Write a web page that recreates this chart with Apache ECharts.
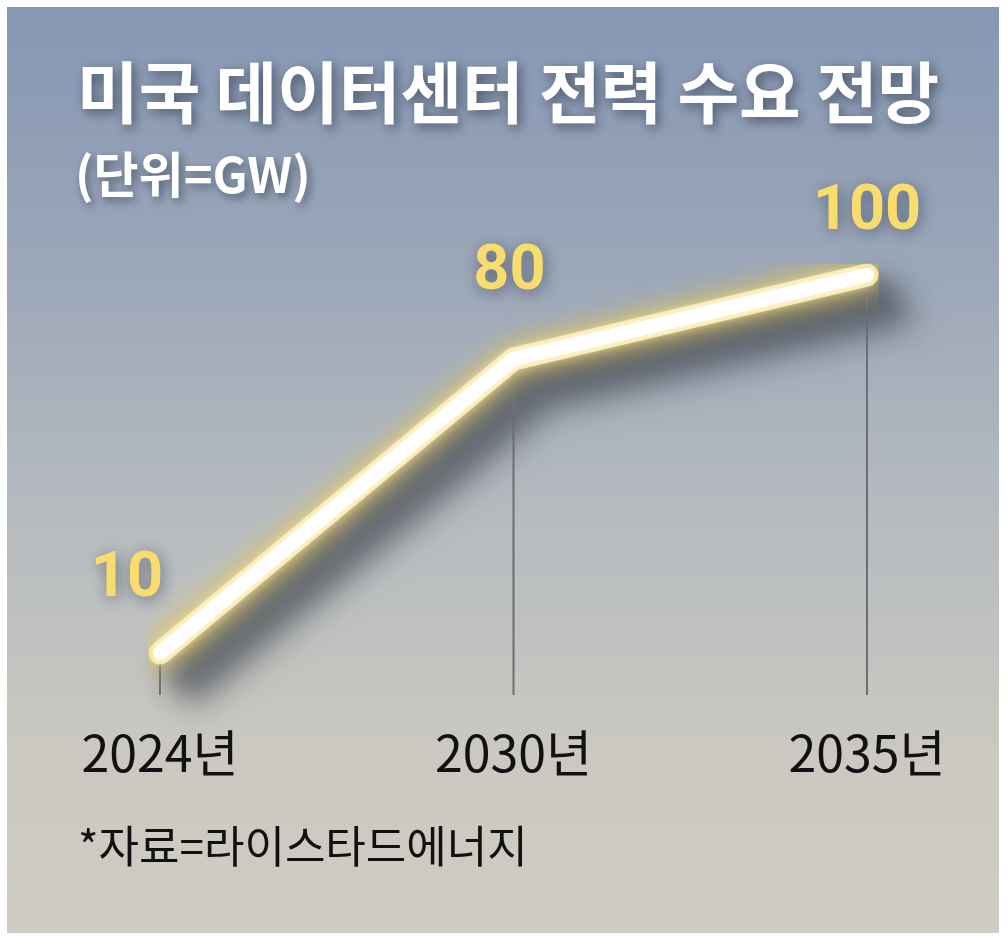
<!DOCTYPE html>
<html>
<head>
<meta charset="utf-8">
<script src="https://cdn.jsdelivr.net/npm/echarts@6/dist/echarts.min.js"></script>
<style>
  html, body { margin: 0; padding: 0; background: #ffffff; }
  #chart { width: 1007px; height: 938px; }
</style>
</head>
<body>
<div id="chart"></div>
<script>
// ---- data ----
var titleText = '미국 데이터센터 전력 수요 전망';
var unitText = '(단위=GW)';
var sourceText = '*자료=라이스타드에너지';
var categories = ['2024년', '2030년', '2035년'];
var demandGW = [10, 80, 100];

// ---- styles ----
var labelOffsets = [[-33, -73], [-4, -86], [0, -62]];
var sansKR = '"Noto Sans CJK KR", "Noto Sans", sans-serif';

var chart = echarts.init(document.getElementById('chart'), null, { renderer: 'canvas' });

var labelData = demandGW.map(function (v, i) {
  return { value: v, label: { offset: labelOffsets[i] } };
});

// cast shadow of the line, drawn through the axes (api.coord)
function renderShadow(params, api) {
  if (params.dataIndex !== 0) return null;
  var pts = demandGW.map(function (v, i) { return api.coord([i, v]); });
  function layer(ox, oy, blur, color) {
    return {
      type: 'polyline',
      shape: { points: pts },
      style: {
        fill: null, stroke: '#ffffff', lineWidth: 20,
        lineCap: 'round', lineJoin: 'round',
        shadowColor: color, shadowBlur: blur,
        shadowOffsetX: ox, shadowOffsetY: oy
      }
    };
  }
  return {
    type: 'group',
    children: [
      layer(12, 12, 24, 'rgba(75,80,89,0.6)'),
      layer(20, 22, 26, 'rgba(75,80,89,0.75)'),
      layer(28, 32, 28, 'rgba(75,80,89,0.75)'),
      layer(34, 42, 32, 'rgba(75,80,89,0.55)')
    ]
  };
}

var option = {
  backgroundColor: '#ffffff',
  animation: false,
  graphic: [
    {
      type: 'rect', z: -10, silent: true,
      shape: { x: 7, y: 7, width: 992, height: 926 },
      style: {
        fill: new echarts.graphic.LinearGradient(0, 0, 0, 1, [
          { offset: 0, color: '#8597b3' },
          { offset: 0.3, color: '#9da8b9' },
          { offset: 0.55, color: '#b6bbbf' },
          { offset: 0.8, color: '#cac8c0' },
          { offset: 1, color: '#d0ccc2' }
        ])
      }
    },
    {
      type: 'text', left: 78, top: 824, z: 10,
      style: { text: sourceText, fill: '#111111', font: '400 44px ' + sansKR }
    }
  ],
  title: [
    {
      text: titleText, left: 72, top: 54,
      textStyle: {
        color: '#ffffff', fontSize: 67, fontWeight: 'bold', fontFamily: sansKR,
        textShadowColor: 'rgba(35,45,65,0.65)', textShadowBlur: 12,
        textShadowOffsetX: 3, textShadowOffsetY: 4
      }
    },
    {
      text: unitText, left: 70, top: 145,
      textStyle: {
        color: '#ffffff', fontSize: 49, fontWeight: 'bold', fontFamily: sansKR,
        textShadowColor: 'rgba(35,45,65,0.6)', textShadowBlur: 10,
        textShadowOffsetX: 3, textShadowOffsetY: 4
      }
    }
  ],
  grid: { left: 160, right: 140, top: 275, bottom: 243 },
  xAxis: {
    type: 'category',
    data: categories,
    boundaryGap: false,
    axisLine: { show: false },
    axisTick: { show: false },
    splitLine: { show: false },
    axisLabel: {
      color: '#111111', fontSize: 50, fontFamily: sansKR, margin: 33
    }
  },
  yAxis: {
    type: 'value', min: 0, max: 100, interval: 20,
    show: false
  },
  series: [
    {
      // drop lines
      type: 'bar', z: 3, barWidth: 2, silent: true,
      data: demandGW,
      itemStyle: { color: '#6b6e74' }
    },
    {
      type: 'custom', z: 2, silent: true, clip: false,
      data: demandGW,
      renderItem: renderShadow
    },
    {
      // yellow glow
      type: 'line', z: 4, data: demandGW, symbol: 'none', silent: true,
      lineStyle: {
        width: 23, color: '#fae69e', cap: 'round', join: 'round',
        shadowColor: '#f2cd45', shadowBlur: 28
      }
    },
    {
      // white core + labels
      type: 'line', z: 5, data: labelData, symbol: 'circle', symbolSize: 1,
      silent: true,
      itemStyle: { color: 'rgba(255,255,255,0)' },
      lineStyle: {
        width: 14, color: '#ffffff', cap: 'round', join: 'round',
        shadowColor: '#ffffff', shadowBlur: 12
      },
      label: {
        show: true, position: 'inside',
        color: '#f8dc6e', fontSize: 63, fontWeight: 'bold',
        fontFamily: 'Roboto, "Noto Sans", sans-serif',
        textShadowColor: 'rgba(40,50,70,0.6)', textShadowBlur: 16,
        textShadowOffsetX: 2, textShadowOffsetY: 3
      }
    }
  ]
};

chart.setOption(option);
</script>
</body>
</html>
